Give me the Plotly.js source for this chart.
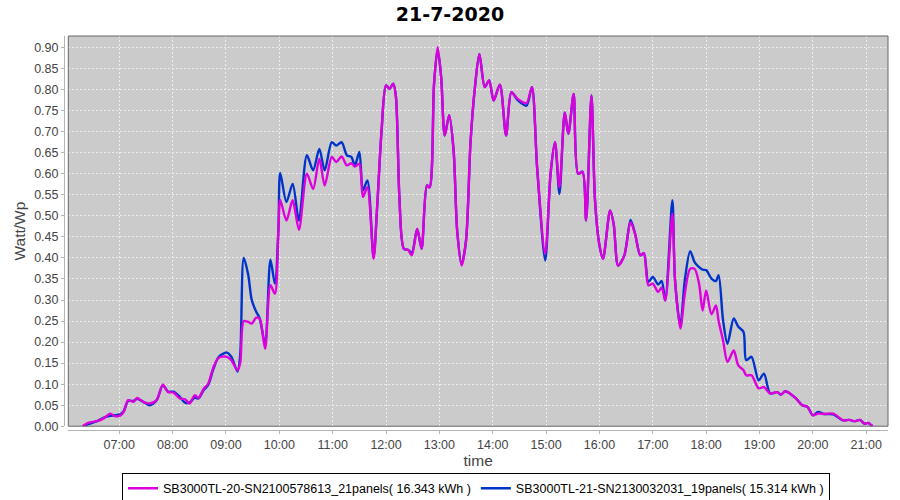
<!DOCTYPE html>
<html>
<head>
<meta charset="utf-8">
<script src="https://cdn.plot.ly/plotly-3.0.1.min.js"></script>
<style>html,body{margin:0;padding:0;background:#fff;}#chart{width:900px;height:500px;}</style>
</head>
<body>
<div id="chart"></div>
<script>
const chartDate = "2020-07-21";
const chartTitle = "21-7-2020";
const seriesNames = [
  "SB3000TL-20-SN2100578613_21panels( 16.343 kWh )",
  "SB3000TL-21-SN2130032031_19panels( 15.314 kWh )"
];
const times = ["06:19","06:25","06:35","06:42","06:50","06:55","07:01","07:05","07:10","07:16","07:20","07:27","07:34","07:42","07:49","07:55","08:01","08:08","08:14","08:19","08:25","08:29","08:35","08:40","08:46","08:52","09:01","09:06","09:13","09:16","09:20","09:25","09:29","09:34","09:38","09:44","09:50","09:55","09:59","10:01","10:08","10:15","10:22","10:31","10:38","10:45","10:51","10:59","11:04","11:10","11:16","11:21","11:25","11:30","11:34","11:39","11:46","11:50","11:55","12:00","12:04","12:08","12:11","12:15","12:20","12:25","12:29","12:35","12:40","12:46","12:49","12:54","12:58","13:02","13:06","13:11","13:16","13:20","13:25","13:30","13:35","13:40","13:45","13:51","13:56","14:01","14:08","14:15","14:21","14:28","14:38","14:44","14:50","14:59","15:05","15:10","15:15","15:21","15:25","15:31","15:36","15:41","15:45","15:51","15:55","16:00","16:04","16:12","16:16","16:21","16:28","16:35","16:40","16:46","16:50","16:55","17:00","17:06","17:10","17:14","17:22","17:25","17:31","17:36","17:42","17:47","17:52","17:56","18:00","18:06","18:11","18:14","18:19","18:24","18:31","18:36","18:42","18:45","18:51","18:59","19:05","19:12","19:20","19:24","19:29","19:34","19:41","19:48","19:54","20:00","20:06","20:13","20:23","20:34","20:41","20:47","20:53","20:58","21:02","21:07"];
const magentaValues = [0.000,0.008,0.012,0.018,0.030,0.024,0.025,0.034,0.062,0.058,0.067,0.058,0.054,0.062,0.099,0.081,0.080,0.066,0.064,0.054,0.074,0.067,0.089,0.101,0.141,0.163,0.165,0.157,0.133,0.150,0.250,0.248,0.244,0.258,0.255,0.184,0.335,0.315,0.465,0.538,0.489,0.537,0.467,0.600,0.564,0.636,0.572,0.640,0.628,0.641,0.620,0.625,0.617,0.624,0.545,0.568,0.398,0.521,0.703,0.810,0.802,0.814,0.786,0.545,0.422,0.419,0.406,0.469,0.422,0.572,0.568,0.814,0.901,0.830,0.691,0.739,0.655,0.465,0.382,0.442,0.675,0.806,0.885,0.806,0.822,0.774,0.812,0.691,0.794,0.778,0.768,0.806,0.612,0.410,0.600,0.675,0.568,0.746,0.695,0.790,0.600,0.605,0.489,0.786,0.537,0.430,0.398,0.513,0.481,0.382,0.406,0.485,0.458,0.406,0.411,0.335,0.339,0.319,0.330,0.299,0.505,0.347,0.232,0.315,0.374,0.374,0.339,0.275,0.323,0.266,0.287,0.250,0.204,0.153,0.180,0.145,0.133,0.121,0.121,0.090,0.093,0.078,0.081,0.075,0.083,0.078,0.066,0.050,0.046,0.026,0.030,0.029,0.030,0.014,0.015,0.012,0.015,0.006,0.008,0.000];
const blueValues = [0.000,0.005,0.012,0.020,0.025,0.026,0.028,0.036,0.060,0.060,0.065,0.058,0.050,0.062,0.097,0.082,0.082,0.070,0.056,0.056,0.068,0.066,0.086,0.098,0.137,0.165,0.175,0.165,0.130,0.170,0.400,0.360,0.300,0.272,0.256,0.195,0.396,0.339,0.470,0.602,0.533,0.576,0.489,0.644,0.608,0.659,0.608,0.675,0.667,0.675,0.644,0.640,0.620,0.652,0.560,0.584,0.402,0.521,0.703,0.810,0.802,0.814,0.786,0.545,0.422,0.419,0.412,0.469,0.422,0.572,0.568,0.814,0.895,0.830,0.691,0.739,0.655,0.465,0.385,0.442,0.675,0.806,0.885,0.806,0.822,0.774,0.812,0.691,0.794,0.775,0.762,0.806,0.612,0.394,0.600,0.675,0.552,0.746,0.695,0.790,0.600,0.605,0.489,0.786,0.537,0.430,0.398,0.513,0.481,0.382,0.406,0.490,0.458,0.406,0.411,0.343,0.355,0.337,0.345,0.299,0.537,0.347,0.240,0.347,0.416,0.390,0.378,0.372,0.371,0.351,0.345,0.359,0.252,0.196,0.256,0.237,0.224,0.157,0.165,0.109,0.125,0.078,0.081,0.075,0.083,0.078,0.066,0.050,0.046,0.026,0.034,0.029,0.028,0.014,0.015,0.012,0.015,0.006,0.008,0.000];
const xTickTimes = ["07:00","08:00","09:00","10:00","11:00","12:00","13:00","14:00","15:00","16:00","17:00","18:00","19:00","20:00","21:00"];
const yTickValues = [0,0.05,0.10,0.15,0.20,0.25,0.30,0.35,0.40,0.45,0.50,0.55,0.60,0.65,0.70,0.75,0.80,0.85,0.90];

const toDate = t => chartDate + " " + t;
const xs = times.map(toDate);
const font = "Liberation Sans, Arial, sans-serif";

const xDomain = [0.0052, 1];
const yDomain = [0.0096, 1];

const traces = [
  {x: xs, y: blueValues, name: seriesNames[1], type: "scatter", mode: "lines",
   line: {color: "#0033cc", width: 2.4, shape: "spline", smoothing: 0.8}, legendrank: 2},
  {x: xs, y: magentaValues, name: seriesNames[0], type: "scatter", mode: "lines",
   line: {color: "#dd00dd", width: 2.4, shape: "spline", smoothing: 0.8}, legendrank: 1}
];

const layout = {
  width: 900, height: 500,
  paper_bgcolor: "#ffffff", plot_bgcolor: "#cbcbcb",
  margin: {l: 64, r: 12, t: 36, b: 69.5, autoexpand: false},
  title: {text: "<b>" + chartTitle + "</b>", x: 0.5, xanchor: "center", y: 0.972, yanchor: "middle",
          font: {family: "DejaVu Sans, sans-serif", size: 19, color: "#000"}},
  xaxis: {
    type: "date", domain: xDomain, anchor: "free", position: 0,
    range: [toDate("06:02:40"), toDate("21:24:30")],
    tickvals: xTickTimes.map(toDate), ticktext: xTickTimes,
    showgrid: true, gridcolor: "#eeeeee", griddash: "2px,2px", gridwidth: 1,
    showline: true, linecolor: "#b4b4b4", linewidth: 1,
    ticks: "outside", ticklen: 3, tickcolor: "#b4b4b4",
    tickfont: {family: font, size: 12.5, color: "#444"},
    title: {text: "time", font: {family: font, size: 15.5, color: "#444"}, standoff: 4},
    zeroline: false, fixedrange: true
  },
  yaxis: {
    domain: yDomain, anchor: "free", position: 0,
    range: [0, 0.9275],
    tickvals: yTickValues, ticktext: yTickValues.map(v => v.toFixed(2)),
    showgrid: true, gridcolor: "#eeeeee", griddash: "2px,2px", gridwidth: 1,
    showline: true, linecolor: "#b4b4b4", linewidth: 1,
    ticks: "outside", ticklen: 3, tickcolor: "#b4b4b4",
    tickfont: {family: font, size: 12.5, color: "#444"},
    title: {text: "Watt/Wp", font: {family: font, size: 15.5, color: "#444"}, standoff: 3},
    zeroline: false, fixedrange: true
  },
  shapes: [
    {type: "rect", xref: "paper", yref: "paper", x0: xDomain[0], x1: xDomain[1], y0: yDomain[0], y1: yDomain[1],
     line: {color: "#666666", width: 1}, fillcolor: "rgba(0,0,0,0)", layer: "above"}
  ],
  showlegend: true,
  legend: {orientation: "h", x: 0.5, xanchor: "center", y: -0.108, yanchor: "top",
           bgcolor: "#ffffff", bordercolor: "#000000", borderwidth: 1,
           font: {family: font, size: 12.5, color: "#000"},
           tracegroupgap: 0, itemwidth: 30}
};

Plotly.newPlot("chart", traces, layout, {displayModeBar: false, staticPlot: true});
</script>
</body>
</html>
